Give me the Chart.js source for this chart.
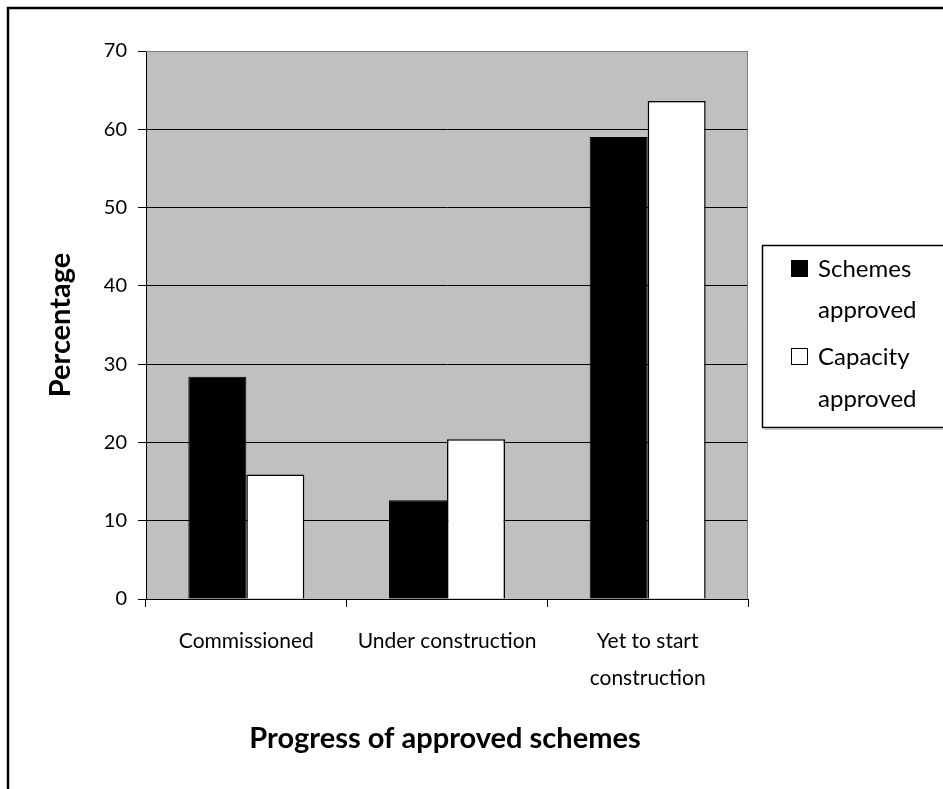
<!DOCTYPE html>
<html>
<head>
<meta charset="utf-8">
<script src="https://cdn.jsdelivr.net/npm/chart.js@4.4.0/dist/chart.umd.min.js"></script>
<style>
  html, body { margin: 0; padding: 0; background: #fff; }
  canvas { display: block; }
</style>
</head>
<body>
<canvas id="chart" width="943" height="789"></canvas>
<script>
// Progress of approved schemes, share in each stage (%)
const categories = ['Commissioned', 'Under construction', ['Yet to start', 'construction']];
const schemesApproved = [28.4, 12.6, 59.0];
const capacityApproved = [15.9, 20.4, 63.6];
const seriesNames = ['Schemes approved', 'Capacity approved'];
const yTickValues = [0, 10, 20, 30, 40, 50, 60, 70];
const xAxisTitle = 'Progress of approved schemes';
const yAxisTitle = 'Percentage';

const FONT = 'Lato, "DejaVu Sans", sans-serif';

// Grey plot background, plot frame, page frame, legend box and axis titles
const decorations = {
  id: 'decorations',
  beforeDraw(chart) {
    const { ctx, chartArea: a } = chart;
    ctx.save();
    ctx.fillStyle = '#c0c0c0';
    ctx.fillRect(a.left, a.top, a.right - a.left, a.bottom - a.top);
    ctx.restore();
  },
  beforeDatasetsDraw(chart) {
    const { ctx, chartArea: a } = chart;
    ctx.save();
    ctx.strokeStyle = '#808080';
    ctx.lineWidth = 1;
    ctx.beginPath();
    ctx.moveTo(a.left, a.top + 0.5);
    ctx.lineTo(a.right - 0.5, a.top + 0.5);
    ctx.lineTo(a.right - 0.5, a.bottom);
    ctx.stroke();
    ctx.restore();
  },
  afterDraw(chart) {
    const { ctx } = chart;
    ctx.save();

    // outer frame (continues past the right and bottom edges)
    ctx.strokeStyle = '#000';
    ctx.lineWidth = 2.5;
    ctx.beginPath();
    ctx.moveTo(8, 800);
    ctx.lineTo(8, 8);
    ctx.lineTo(960, 8);
    ctx.stroke();

    // legend box, open to the right edge
    ctx.strokeStyle = '#c8c8c8';
    ctx.lineWidth = 1;
    ctx.beginPath();
    ctx.moveTo(764, 429.5);
    ctx.lineTo(960, 429.5);
    ctx.stroke();
    ctx.strokeStyle = '#000';
    ctx.lineWidth = 1.5;
    ctx.beginPath();
    ctx.moveTo(960, 245.5);
    ctx.lineTo(762.5, 245.5);
    ctx.lineTo(762.5, 427.5);
    ctx.lineTo(960, 427.5);
    ctx.stroke();

    const ds = chart.data.datasets;
    const rows = [
      { sq: 260, lines: [277, 318] },
      { sq: 348, lines: [365, 407] }
    ];
    ctx.font = '24px ' + FONT;
    ctx.textBaseline = 'alphabetic';
    ctx.textAlign = 'left';
    ds.forEach((d, i) => {
      const r = rows[i];
      ctx.fillStyle = d.backgroundColor;
      ctx.fillRect(791, r.sq, 17, 17);
      ctx.strokeStyle = '#000';
      ctx.lineWidth = 1;
      ctx.strokeRect(791.5, r.sq + 0.5, 16, 16);
      ctx.fillStyle = '#000';
      const words = d.label.split(' ');
      ctx.fillText(words[0], 818, r.lines[0]);
      ctx.fillText(words.slice(1).join(' '), 818, r.lines[1]);
    });

    // axis titles
    ctx.fillStyle = '#000';
    ctx.font = 'bold 29px ' + FONT;
    ctx.textAlign = 'center';
    ctx.textBaseline = 'alphabetic';
    ctx.fillText(xAxisTitle, 445, 748);
    ctx.translate(70, 325);
    ctx.rotate(-Math.PI / 2);
    ctx.fillText(yAxisTitle, 0, 0);
    ctx.restore();
  }
};

new Chart(document.getElementById('chart'), {
  type: 'bar',
  plugins: [decorations],
  data: {
    labels: categories,
    datasets: [
      {
        label: seriesNames[0],
        data: schemesApproved,
        backgroundColor: '#000000',
        borderColor: '#000000',
        borderWidth: 1,
        categoryPercentage: 0.578,
        barPercentage: 1.0
      },
      {
        label: seriesNames[1],
        data: capacityApproved,
        backgroundColor: '#ffffff',
        borderColor: '#000000',
        borderWidth: 1.5,
        categoryPercentage: 0.578,
        barPercentage: 1.0
      }
    ]
  },
  options: {
    responsive: false,
    animation: false,
    devicePixelRatio: 1,
    layout: { padding: { top: 51, right: 195, left: 0, bottom: 0 } },
    plugins: {
      legend: { display: false },
      tooltip: { enabled: false },
      title: { display: false }
    },
    scales: {
      x: {
        grid: {
          display: true,
          offset: true,
          drawOnChartArea: false,
          drawTicks: true,
          tickLength: 8,
          tickColor: '#000',
          lineWidth: 1
        },
        border: { display: true, color: '#000', width: 1 },
        ticks: {
          color: '#000',
          font: { family: FONT, size: 21, lineHeight: 1.76 },
          padding: 16,
          maxRotation: 0,
          autoSkip: false
        },
        afterFit(scale) { scale.height = 190; }
      },
      y: {
        min: 0,
        max: 70,
        afterBuildTicks(scale) {
          scale.ticks = yTickValues.map(v => ({ value: v }));
        },
        grid: {
          color: ctx => (ctx.tick && ctx.tick.value === 70 ? '#808080' : '#000'),
          lineWidth: 1,
          drawTicks: true,
          tickLength: 8,
          tickColor: '#000'
        },
        border: { display: true, color: '#000', width: 1 },
        ticks: {
          color: '#000',
          font: { family: FONT, size: 20 },
          padding: 11
        },
        afterFit(scale) { scale.width = 146; }
      }
    }
  }
});
</script>
</body>
</html>
